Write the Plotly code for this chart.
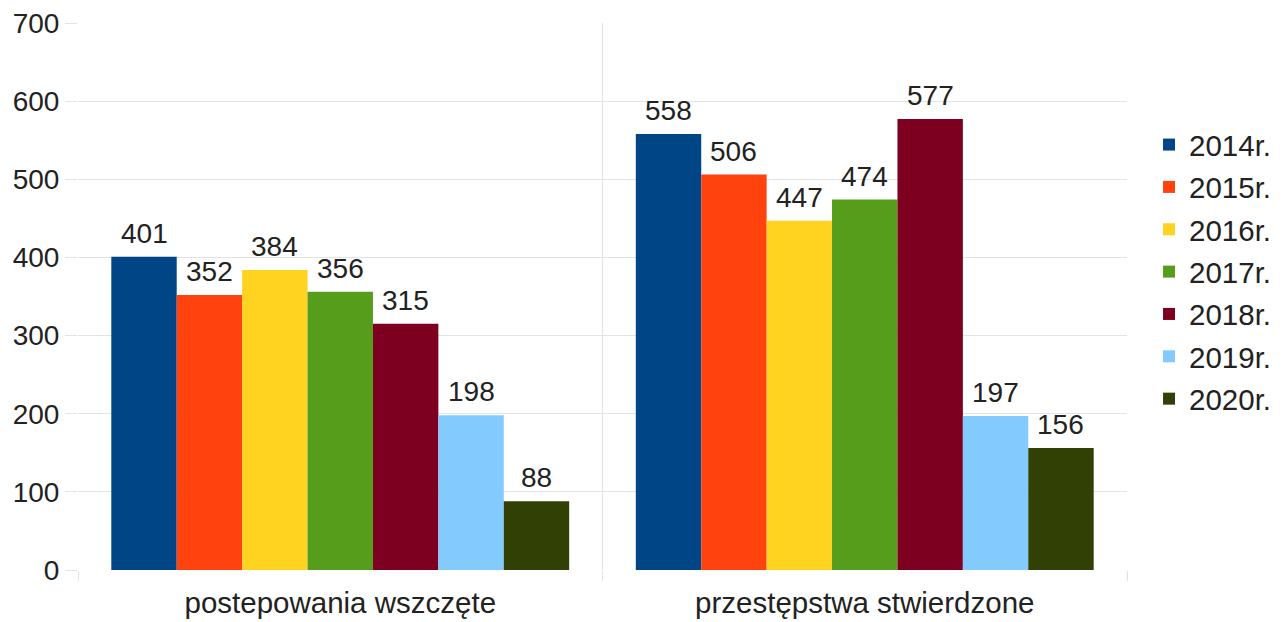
import plotly.graph_objects as go

# kategorie i dane
categories = ["postepowania wszczęte", "przestępstwa stwierdzone"]
years = ["2014r.", "2015r.", "2016r.", "2017r.", "2018r.", "2019r.", "2020r."]
v2014 = [401, 558]
v2015 = [352, 506]
v2016 = [384, 447]
v2017 = [356, 474]
v2018 = [315, 577]
v2019 = [198, 197]
v2020 = [88, 156]

series = [v2014, v2015, v2016, v2017, v2018, v2019, v2020]
colors = ["#004586", "#ff420e", "#ffd320", "#579d1c", "#7e0021", "#83caff", "#314004"]

FONT = "Liberation Sans, Arial, sans-serif"
GRID = "#e3e3e3"
FS = 28        # podpisy osi y i wartosci
FS_BIG = 29.5  # legenda i kategorie
BARGAP = 0.127

fig = go.Figure()
for name, vals, col in zip(years, series, colors):
    fig.add_trace(go.Bar(
        x=categories, y=vals, name=name, legendgroup=name,
        marker=dict(color=col, line=dict(width=0)),
    ))

# etykiety wartosci jako adnotacje (wiekszy odstep od slupka niz w textposition)
n = len(series)
w = (1 - BARGAP) / n
for i, vals in enumerate(series):
    off = -(1 - BARGAP) / 2 + (i + 0.5) * w
    for ci, v in enumerate(vals):
        fig.add_annotation(x=ci + off, y=v, text=str(v), showarrow=False,
                           xanchor="center", yanchor="bottom", yshift=6,
                           font=dict(size=FS, color="#222222", family=FONT))

# strona html ma margines 8px, wiec wszystko przesuniete o 8
fig.update_layout(
    width=1285, height=622,
    barmode="group", bargap=BARGAP, bargroupgap=0,
    paper_bgcolor="white", plot_bgcolor="white",
    margin=dict(l=70, r=166, t=15, b=60, autoexpand=False),
    font=dict(family=FONT, size=FS, color="#222222"),
    legend=dict(x=1.021, y=0.545, xanchor="left", yanchor="middle",
                font=dict(size=FS_BIG), traceorder="grouped", tracegroupgap=1),
)
fig.update_yaxes(range=[0, 700], dtick=100, showgrid=True, gridcolor=GRID, gridwidth=1,
                 ticks="outside", ticklen=12, tickcolor=GRID, zeroline=False,
                 showline=False, tickfont=dict(size=FS), automargin=False,
                 ticklabeloverflow="allow")
fig.update_xaxes(tickson="boundaries", showgrid=True, gridcolor=GRID, gridwidth=1,
                 ticks="outside", ticklen=10, tickcolor=GRID, showline=False,
                 tickfont=dict(size=FS_BIG), ticklabelstandoff=12, automargin=False)

fig.write_html("out.html")
